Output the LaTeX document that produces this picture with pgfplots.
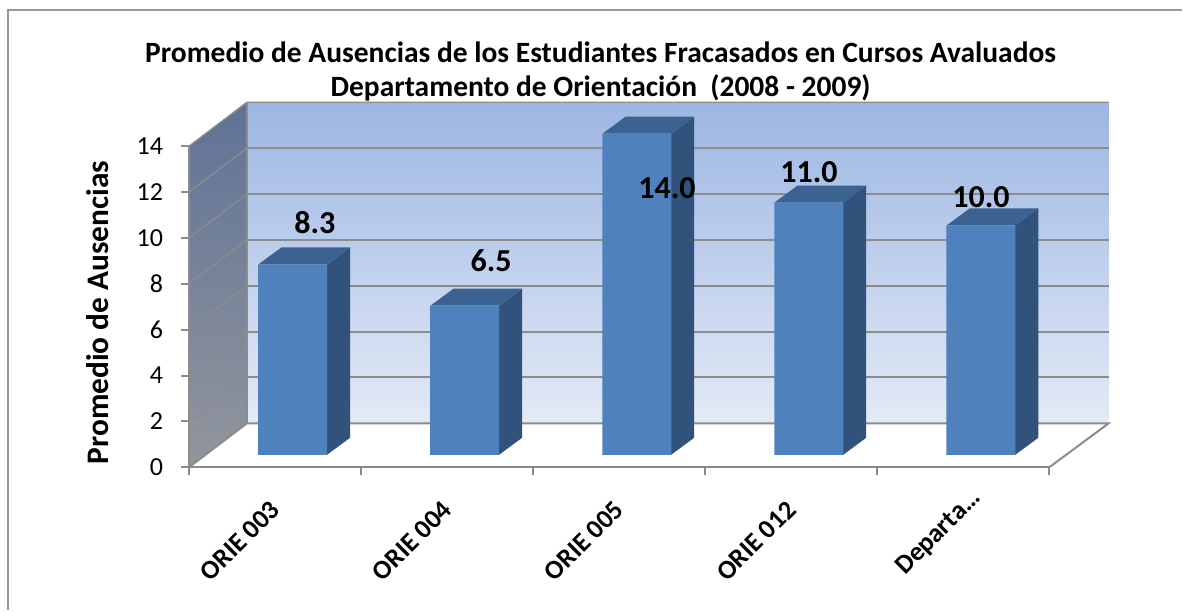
\documentclass[border=0pt]{standalone}
\usepackage{fontspec}
\setmainfont{Carlito}
\usepackage{pgfplots}
\pgfplotsset{compat=1.18}
\definecolor{axgray}{HTML}{8C8C8C}
\definecolor{frontc}{HTML}{4F81BD}
\definecolor{sidec}{HTML}{31527B}
\definecolor{topc}{HTML}{3C6291}
\begin{document}
\begin{tikzpicture}
\begin{axis}[
  scale only axis, width=645.2pt, height=240.8pt,
  xmin=0, xmax=5, ymin=0, ymax=14,
  clip=false, axis on top,
  axis x line=bottom, axis y line=left,
  axis line style={-, color=axgray, line width=1.5pt},
  tick style={color=axgray, line width=1.5pt},
  major tick length=6pt, tick align=outside,
  xtick={0,1,2,3,4,5}, ytick={0,2,4,6,8,10,12,14},
  x tick label as interval,
  xticklabels={ORIE 003,ORIE 004,ORIE 005,ORIE 012,Departa\ldots\hspace*{-13pt}},
  x tick label style={xshift=-4.5pt, yshift=-13pt, rotate=45, anchor=north east, font=\fontsize{20pt}{22pt}\selectfont\bfseries},
  y tick label style={font=\fontsize{19.5pt}{21pt}\selectfont, xshift=-10pt},
  /pgf/number format/assume math mode=true,
  ylabel={Promedio de Ausencias},
  ylabel style={at={(axis description cs:-0.1058,0.482)}, anchor=center, font=\fontsize{23.5pt}{25pt}\selectfont\bfseries},
  title={Promedio de Ausencias de los Estudiantes Fracasados en Cursos Avaluados\\Departamento de Orientación\ \ (2008 - 2009)},
  title style={at={(axis cs:2.392,16.91)}, anchor=center, align=center, font=\fontsize{22.1pt}{26pt}\selectfont\bfseries},
]
% picture extent and outer border
\addplot[draw=none] coordinates {(-1.0984,-6.271) (5.777,20.375)};
\addplot[color=black!40, line width=1.5pt] coordinates {(-1.052,-6.23) (-1.052,19.96) (5.77,19.96)};
% back wall and side wall
\addplot[draw=none, top color={rgb,255:red,156;green,182;blue,227}, bottom color={rgb,255:red,227;green,234;blue,246}] coordinates {(0.3371,1.919) (5.345,1.919) (5.345,15.919) (0.3371,15.919)} --cycle;
\addplot[draw=none, top color={rgb,255:red,95;green,114;blue,150}, bottom color={rgb,255:red,146;green,150;blue,157}] coordinates {(0,0) (0.3371,1.919) (0.3371,15.919) (0,14)} --cycle;
% gridlines
\addplot[color=axgray, line width=1.5pt] coordinates {(0,0) (0.3371,1.919) (5.345,1.919) (5,0)};
\addplot[color=axgray, line width=1pt] coordinates {(0,2) (0.3371,3.919)};
\addplot[color=axgray, line width=1.5pt] coordinates {(0.3371,3.919) (5.345,3.919)};
\addplot[color=axgray, line width=1pt] coordinates {(0,4) (0.3371,5.919)};
\addplot[color=axgray, line width=1.5pt] coordinates {(0.3371,5.919) (5.345,5.919)};
\addplot[color=axgray, line width=1pt] coordinates {(0,6) (0.3371,7.919)};
\addplot[color=axgray, line width=1.5pt] coordinates {(0.3371,7.919) (5.345,7.919)};
\addplot[color=axgray, line width=1pt] coordinates {(0,8) (0.3371,9.919)};
\addplot[color=axgray, line width=1.5pt] coordinates {(0.3371,9.919) (5.345,9.919)};
\addplot[color=axgray, line width=1pt] coordinates {(0,10) (0.3371,11.919)};
\addplot[color=axgray, line width=1.5pt] coordinates {(0.3371,11.919) (5.345,11.919)};
\addplot[color=axgray, line width=1pt] coordinates {(0,12) (0.3371,13.919)};
\addplot[color=axgray, line width=1.5pt] coordinates {(0.3371,13.919) (5.345,13.919)};
\addplot[color=axgray, line width=1pt] coordinates {(0,14) (0.3371,15.919) (5.345,15.919)};
\addplot[color=axgray, line width=0.8pt] coordinates {(0.3371,1.919) (0.3371,15.919)};
% bar sides
\addplot[draw=none, fill=sidec] coordinates {(0.802,0.545) (0.936,1.286) (0.936,9.586) (0.802,8.845)} --cycle;
\addplot[draw=none, fill=sidec] coordinates {(1.802,0.545) (1.936,1.286) (1.936,7.786) (1.802,7.045)} --cycle;
\addplot[draw=none, fill=sidec] coordinates {(2.802,0.545) (2.936,1.286) (2.936,15.286) (2.802,14.545)} --cycle;
\addplot[draw=none, fill=sidec] coordinates {(3.802,0.545) (3.936,1.286) (3.936,12.286) (3.802,11.545)} --cycle;
\addplot[draw=none, fill=sidec] coordinates {(4.802,0.545) (4.936,1.286) (4.936,11.286) (4.802,10.545)} --cycle;
% bar tops
\addplot[draw=none, fill=topc] coordinates {(0.403,8.845) (0.802,8.845) (0.936,9.586) (0.537,9.586)} --cycle;
\addplot[draw=none, fill=topc] coordinates {(1.403,7.045) (1.802,7.045) (1.936,7.786) (1.537,7.786)} --cycle;
\addplot[draw=none, fill=topc] coordinates {(2.403,14.545) (2.802,14.545) (2.936,15.286) (2.537,15.286)} --cycle;
\addplot[draw=none, fill=topc] coordinates {(3.403,11.545) (3.802,11.545) (3.936,12.286) (3.537,12.286)} --cycle;
\addplot[draw=none, fill=topc] coordinates {(4.403,10.545) (4.802,10.545) (4.936,11.286) (4.537,11.286)} --cycle;
% bar fronts: the values
\addplot[ybar, bar width=51.75pt, bar shift=0pt, draw=none, fill=frontc, xshift=13.2pt, yshift=9.375pt]
  coordinates {(0.5,8.3) (1.5,6.5) (2.5,14.0) (3.5,11.0) (4.5,10.0)};
% value labels
\begin{scope}[every node/.style={anchor=base, font=\fontsize{24pt}{25pt}\selectfont\bfseries, inner sep=0pt}]
\node at (axis cs:0.732,10.2) {8.3};
\node at (axis cs:1.756,8.54) {6.5};
\node at (axis cs:2.778,11.72) {14.0};
\node at (axis cs:3.603,12.40) {11.0};
\node at (axis cs:4.603,11.32) {10.0};
\end{scope}
\end{axis}
\end{tikzpicture}
\end{document}
